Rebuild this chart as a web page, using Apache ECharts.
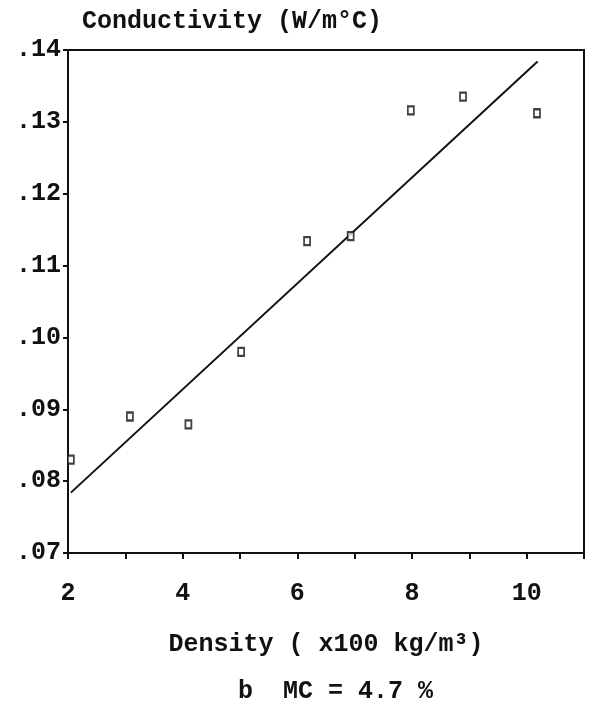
<!DOCTYPE html>
<html>
<head>
<meta charset="utf-8">
<script src="https://cdn.jsdelivr.net/npm/echarts@6/dist/echarts.min.js"></script>
<style>
html,body{margin:0;padding:0;background:#fff;}
#chart{width:590px;height:705px;}
</style>
</head>
<body>
<div id="chart"></div>
<script>
// Data
const densityValues = [2.05, 3.08, 4.10, 5.02, 6.17, 6.93, 7.98, 8.89, 10.18];
const conductivityValues = [0.0830, 0.0890, 0.0879, 0.0980, 0.1134, 0.1141, 0.1316, 0.1335, 0.1312];
const fitLineX = [2.05, 10.19];
const fitLineY = [0.0784, 0.1384];
const xTickLabels = [2, 4, 6, 8, 10];
const yTickLabels = ['.07', '.08', '.09', '.10', '.11', '.12', '.13', '.14'];

const FONT = '"Liberation Mono", "DejaVu Sans Mono", monospace';
const WEIGHT = 'bold';

const chart = echarts.init(document.getElementById('chart'), null, {renderer: 'canvas'});

const scatterData = densityValues.map((x, i) => [x, conductivityValues[i]]);
const lineData = fitLineX.map((x, i) => [x, fitLineY[i]]);

chart.setOption({
  animation: false,
  backgroundColor: '#fff',
  title: {
    text: 'Conductivity (W/m°C)',
    left: 77,
    top: 4,
    textStyle: {fontFamily: FONT, fontSize: 25, fontWeight: WEIGHT, color: '#111'}
  },
  grid: {
    left: 68, right: 6, top: 50, bottom: 152,
    show: true, borderColor: '#111', borderWidth: 2, backgroundColor: 'transparent'
  },
  xAxis: {
    type: 'value',
    min: 2, max: 11, interval: 1,
    axisLine: {show: true, onZero: false, lineStyle: {color: '#111', width: 2}},
    axisTick: {show: true, inside: false, length: 6, lineStyle: {color: '#111', width: 2}},
    splitLine: {show: false},
    axisLabel: {
      margin: 28,
      fontFamily: FONT, fontSize: 25, fontWeight: WEIGHT, color: '#111',
      formatter: v => (xTickLabels.indexOf(Math.round(v)) >= 0 ? String(Math.round(v)) : ''),
      showMaxLabel: true, showMinLabel: true
    },
    name: 'Density ( x100 kg/m³)',
    nameLocation: 'middle',
    nameGap: 79,
    nameTextStyle: {fontFamily: FONT, fontSize: 25, fontWeight: WEIGHT, color: '#111'}
  },
  yAxis: {
    type: 'value',
    min: 0.07, max: 0.14, interval: 0.01,
    axisLine: {show: true, onZero: false, lineStyle: {color: '#111', width: 2}},
    axisTick: {show: true, inside: false, length: 5, lineStyle: {color: '#111', width: 2}},
    splitLine: {show: false},
    axisLabel: {
      margin: 7,
      fontFamily: FONT, fontSize: 25, fontWeight: WEIGHT, color: '#111',
      formatter: v => {
        const idx = Math.round(v * 100) - 7;
        return yTickLabels[idx] !== undefined ? yTickLabels[idx] : '';
      }
    }
  },
  graphic: [{
    type: 'text',
    left: 238,
    top: 679,
    style: {text: 'b  MC = 4.7 %', font: WEIGHT + ' 25px ' + FONT, fill: '#111'}
  }],
  series: [
    {
      type: 'line',
      data: lineData,
      symbol: 'none',
      lineStyle: {color: '#111', width: 2},
      z: 2
    },
    {
      type: 'scatter',
      data: scatterData,
      symbol: 'rect',
      symbolSize: [6, 8],
      itemStyle: {color: '#fff', borderColor: '#111', borderWidth: 2},
      z: 3
    }
  ]
});
</script>
</body>
</html>
